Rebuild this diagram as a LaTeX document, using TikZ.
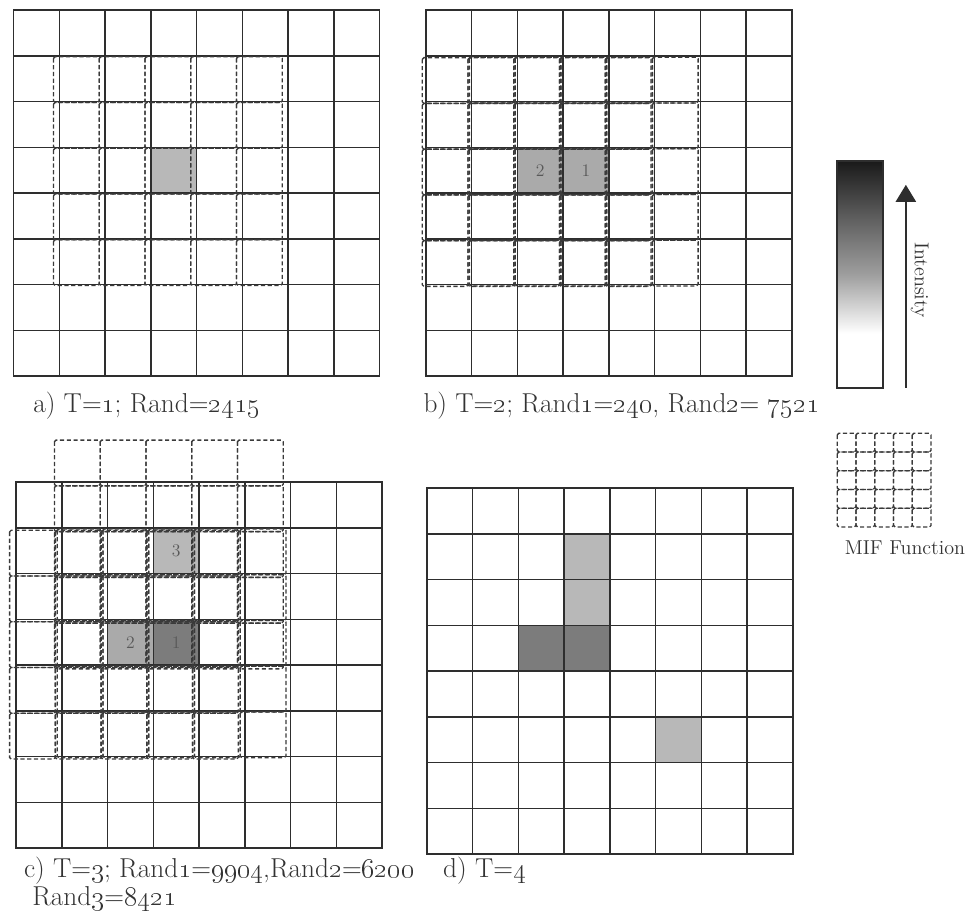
\documentclass[tikz,border=0pt]{standalone}
\usetikzlibrary{arrows.meta, positioning}
\definecolor{gridgray}{HTML}{2E2E2E}
\definecolor{mifgray}{HTML}{3A3A3A}
\definecolor{seedlight}{HTML}{B8B8B8}
\definecolor{seedmid}{HTML}{AAAAAA}
\definecolor{seeddark}{HTML}{7C7C7C}
\definecolor{textgray}{HTML}{333333}
\pgfdeclareverticalshading{intensity}{100bp}{color(0bp)=(white); color(37bp)=(white); color(50bp)=(black!38); color(62bp)=(black!62); color(75bp)=(black!90); color(100bp)=(black!90)}
\tikzset{
  gridline/.style={draw=gridgray, line width=0.95pt},
  mifline/.style={draw=mifgray, line width=0.85pt, dash pattern=on 2.6pt off 1.6pt, rounded corners=1pt},
  caption/.style={font=\fontsize{17}{17.5}\selectfont, text=textgray, anchor=west, inner sep=0pt, align=left},
  cellnum/.style={font=\fontsize{11}{11}\selectfont, text=black!65},
}
% 8x8 board
\newcommand{\board}{%
  \draw[gridline] (0,0) rectangle (8,8);
  \foreach \k in {1,...,7}{\draw[gridline] (\k,0) -- (\k,8); \draw[gridline] (0,\k) -- (8,\k);}}
% 5x5 MIF window round a seed cell: col, row, dx, dy
\newcommand{\mifpatch}[4]{%
  \foreach \i in {-2,...,2}{\foreach \j in {-2,...,2}{
    \draw[mifline] (#1+\i+#3, #2+\j+#4) rectangle ++(1,1);}}}

\begin{document}
\begin{tikzpicture}[y=-1cm]
  \useasboundingbox (0,0) rectangle (21.18,20.0);
  % a) T=1
  \begin{scope}[shift={(0.3,0.22)}]
    \fill[seedlight] (3,3) rectangle ++(1,1);
    \board
    \mifpatch{3}{3}{-0.13}{0.02}
  \end{scope}
  \node[caption] (capa) at (0.72,8.87) {a) T=\oldstylenums{1}; Rand=\oldstylenums{2415}};
  % b) T=2
  \begin{scope}[shift={(9.31,0.22)}]
    \fill[seedmid] (2,3) rectangle ++(2,1);
    \board
    \node[cellnum] (b2) at (2.5,3.5) {2};
    \node[cellnum] (b1) at (3.5,3.5) {1};
    \mifpatch{3}{3}{-0.05}{0.03}
    \mifpatch{2}{3}{-0.08}{0.04}
  \end{scope}
  \node[caption] (capb) at (9.25,8.87) {b) T=\oldstylenums{2}; Rand\oldstylenums{1}=\oldstylenums{240}, Rand\oldstylenums{2}= \oldstylenums{7521}};
  % c) T=3
  \begin{scope}[shift={(0.35,10.54)}]
    \fill[seedlight] (3,1) rectangle ++(1,1);
    \fill[seedmid] (2,3) rectangle ++(1,1);
    \fill[seeddark] (3,3) rectangle ++(1,1);
    \board
    \node[cellnum] (c3) at (3.5,1.5) {3};
    \node[cellnum] (c2) at (2.5,3.5) {2};
    \node[cellnum] (c1) at (3.5,3.5) {1};
    \mifpatch{3}{3}{-0.10}{0.02}
    \mifpatch{2}{3}{-0.14}{0.05}
    \mifpatch{3}{1}{-0.16}{0.08}
  \end{scope}
  \node[caption] (capc) at (0.52,19.32) {c) T=\oldstylenums{3}; Rand\oldstylenums{1}=\oldstylenums{9904},Rand\oldstylenums{2}=\oldstylenums{6200}\\\hspace*{0.3em}Rand\oldstylenums{3}=\oldstylenums{8421}};
  % d) T=4
  \begin{scope}[shift={(9.33,10.67)}]
    \fill[seedlight] (3,1) rectangle ++(1,2);
    \fill[seeddark] (2,3) rectangle ++(2,1);
    \fill[seedlight] (5,5) rectangle ++(1,1);
    \board
  \end{scope}
  \node[caption] (capd) at (9.68,19.02) {d) T=\oldstylenums{4}};
  % intensity legend
  \shade[shading=intensity] (18.3,3.52) rectangle (19.3,8.48);
  \draw[draw=gridgray, line width=0.95pt] (18.3,3.52) rectangle (19.3,8.48);
  \coordinate (intlow) at (19.8,8.48);
  \coordinate (inthigh) at (19.8,4.04);
  \draw[gridgray, line width=1.1pt, -{Triangle[width=0.44cm, length=0.37cm]}] (intlow) -- (inthigh);
  \node[font=\fontsize{12.5}{14}\selectfont, text=textgray, rotate=-90] (intlabel) at (20.1,6.12) {Intensity};
  % MIF legend
  \begin{scope}[shift={(18.3,9.47)}, scale=0.41]
    \foreach \i in {0,...,4}{\foreach \j in {0,...,4}{\draw[mifline] (\i,\j) rectangle ++(1,1);}}
  \end{scope}
  \node[font=\fontsize{12.5}{14}\selectfont, text=textgray] (miflabel) at (19.78,11.98) {MIF Function};
\end{tikzpicture}
\end{document}
